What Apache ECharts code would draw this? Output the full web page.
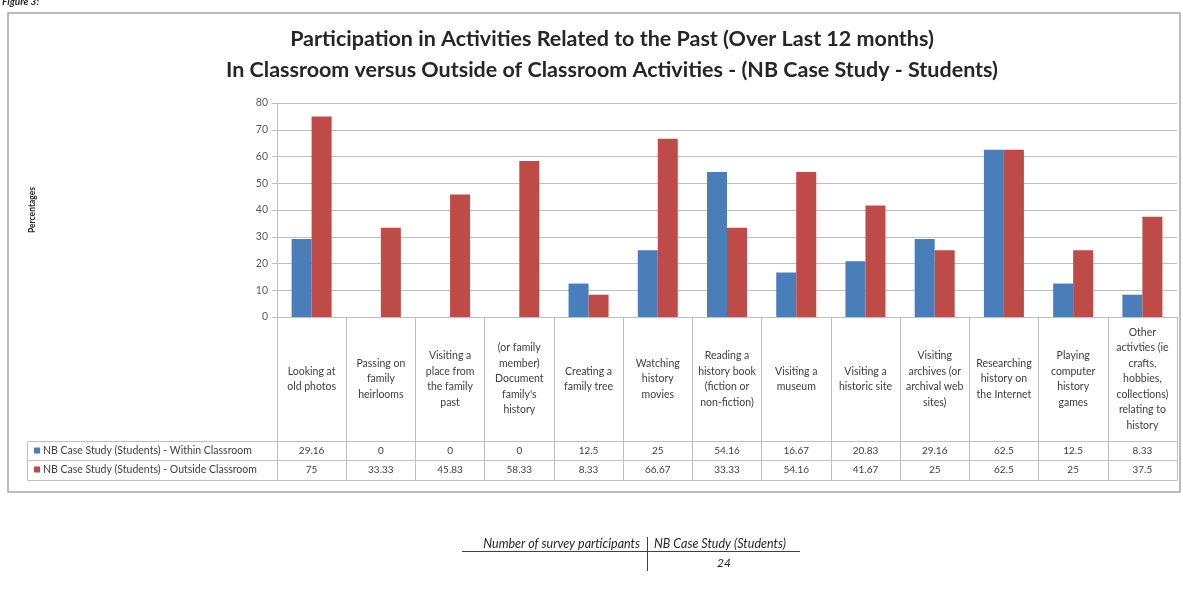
<!DOCTYPE html>
<html>
<head>
<meta charset="utf-8">
<script src="https://cdn.jsdelivr.net/npm/echarts@6/dist/echarts.min.js"></script>
<style>
html,body{margin:0;padding:0;background:#fff;}
#chart{width:1183px;height:607px;}
</style>
</head>
<body>
<div id="chart"></div>
<script>
const categories = [
  "Looking at\nold photos",
  "Passing on\nfamily\nheirlooms",
  "Visiting a\nplace from\nthe family\npast",
  "(or family\nmember)\nDocument\nfamily's\nhistory",
  "Creating a\nfamily tree",
  "Watching\nhistory\nmovies",
  "Reading a\nhistory book\n(fiction or\nnon-fiction)",
  "Visiting a\nmuseum",
  "Visiting a\nhistoric site",
  "Visiting\narchives (or\narchival web\nsites)",
  "Researching\nhistory on\nthe Internet",
  "Playing\ncomputer\nhistory\ngames",
  "Other\nactivties (ie\ncrafts,\nhobbies,\ncollections)\nrelating to\nhistory"
];
const withinClassroom = [29.16, 0, 0, 0, 12.5, 25, 54.16, 16.67, 20.83, 29.16, 62.5, 12.5, 8.33];
const outsideClassroom = [75, 33.33, 45.83, 58.33, 8.33, 66.67, 33.33, 54.16, 41.67, 25, 62.5, 25, 37.5];
const seriesNames = [
  "NB Case Study (Students) - Within Classroom",
  "NB Case Study (Students) - Outside Classroom"
];
const yTicks = [0, 10, 20, 30, 40, 50, 60, 70, 80];
const participants = 24;

const FONT = "Lato, 'Open Sans', sans-serif";
const GRID_L = 277, GRID_R = 6, GRID_T = 103, GRID_B = 290;
const LINE = '#bfbfbf';
const TXT = '#404040';

const chart = echarts.init(document.getElementById('chart'), null, {renderer: 'canvas'});

function fmtNum(v) { return String(v); }

const option = {
  backgroundColor: '#ffffff',
  animation: false,
  title: {
    text: 'Participation in Activities Related to the Past (Over Last 12 months)\nIn Classroom versus Outside of Classroom Activities - (NB Case Study - Students)',
    left: 612,
    textAlign: 'center',
    top: 24,
    padding: 0,
    textStyle: {fontFamily: FONT, fontSize: 21.5, fontWeight: 'bold', color: '#262626', lineHeight: 31}
  },
  legend: {
    orient: 'vertical',
    left: 29,
    top: 439,
    itemWidth: 6,
    itemHeight: 6,
    itemGap: 6,
    icon: 'rect',
    selectedMode: false,
    data: seriesNames,
    textStyle: {fontFamily: FONT, fontSize: 10.5, color: TXT, lineHeight: 13, padding: [0,0,0,-2]}
  },
  grid: {left: GRID_L, right: GRID_R, top: GRID_T, bottom: GRID_B, containLabel: false},
  yAxis: {
    type: 'value',
    min: yTicks[0],
    max: yTicks[yTicks.length - 1],
    interval: 10,
    name: 'Percentages',
    nameLocation: 'middle',
    nameGap: 240,
    nameTextStyle: {fontFamily: FONT, fontSize: 8.5, fontWeight: 'bold', color: '#262626'},
    axisLine: {show: true, lineStyle: {color: LINE, width: 1}},
    axisTick: {show: true, length: 5, lineStyle: {color: LINE}},
    axisLabel: {fontFamily: FONT, fontSize: 10.5, color: '#595959', margin: 9},
    splitLine: {show: true, lineStyle: {color: LINE, width: 1}}
  },
  xAxis: [
    {
      type: 'category',
      data: categories,
      position: 'bottom',
      axisLine: {show: true, lineStyle: {color: LINE}},
      axisTick: {show: true, interval: 0, length: 163, lineStyle: {color: LINE}},
      axisLabel: {interval: 0, fontFamily: FONT, fontSize: 10.5, color: TXT, lineHeight: 15.5,
        verticalAlign: 'middle', align: 'center', margin: 62}
    },
    {
      type: 'category',
      data: categories,
      position: 'bottom',
      offset: 124,
      axisLine: {show: true, lineStyle: {color: LINE}},
      axisTick: {show: false},
      axisLabel: {interval: 0, fontFamily: FONT, fontSize: 10, color: TXT, verticalAlign: 'middle', margin: 10,
        formatter: (v, i) => fmtNum(withinClassroom[i])}
    },
    {
      type: 'category',
      data: categories,
      position: 'bottom',
      offset: 143,
      axisLine: {show: true, lineStyle: {color: LINE}},
      axisTick: {show: false},
      axisLabel: {interval: 0, fontFamily: FONT, fontSize: 10, color: TXT, verticalAlign: 'middle', margin: 10,
        formatter: (v, i) => fmtNum(outsideClassroom[i])}
    },
    {
      type: 'category',
      data: categories,
      position: 'bottom',
      offset: 163,
      axisLine: {show: true, lineStyle: {color: LINE}},
      axisTick: {show: false},
      axisLabel: {show: false}
    }
  ],
  series: [
    {
      name: seriesNames[0], type: 'bar', xAxisIndex: 0, data: withinClassroom,
      barWidth: 20, barGap: '0%',
      itemStyle: {color: '#4a7ebb'}
    },
    {
      name: seriesNames[1], type: 'bar', xAxisIndex: 0, data: outsideClassroom,
      barWidth: 20, barGap: '0%',
      itemStyle: {color: '#be4b48'}
    }
  ],
  graphic: [
    // outer frame
    {type: 'rect', shape: {x: 8, y: 13, width: 1172, height: 479}, style: {fill: 'none', stroke: '#a6a6a6', lineWidth: 1.5}, silent: true, z: -1},
    {type: 'text', x: 2, y: -3, style: {text: 'Figure 3:', font: 'italic bold 10px ' + FONT, fill: '#262626'}},
    // legend column of table
    {type: 'rect', shape: {x: 27.5, y: 441.5, width: 250, height: 39}, style: {fill: 'none', stroke: LINE, lineWidth: 1}, silent: true},
    {type: 'line', shape: {x1: 27.5, y1: 460.5, x2: 277, y2: 460.5}, style: {stroke: LINE, lineWidth: 1}, silent: true},
    // footnote
    {type: 'text', x: 640, y: 544, style: {text: 'Number of survey participants', font: 'italic 12.5px ' + FONT, fill: '#262626', align: 'right', verticalAlign: 'middle'}},
    {type: 'text', x: 654, y: 544, style: {text: 'NB Case Study (Students)', font: 'italic 12.5px ' + FONT, fill: '#262626', align: 'left', verticalAlign: 'middle'}},
    {type: 'text', x: 724, y: 563, style: {text: String(participants), font: 'italic 12px ' + FONT, fill: '#262626', align: 'center', verticalAlign: 'middle'}},
    {type: 'line', shape: {x1: 462, y1: 551.5, x2: 800, y2: 551.5}, style: {stroke: '#404040', lineWidth: 1}, silent: true},
    {type: 'line', shape: {x1: 647.5, y1: 537, x2: 647.5, y2: 571}, style: {stroke: '#404040', lineWidth: 1}, silent: true}
  ]
};
chart.setOption(option);
</script>
</body>
</html>
